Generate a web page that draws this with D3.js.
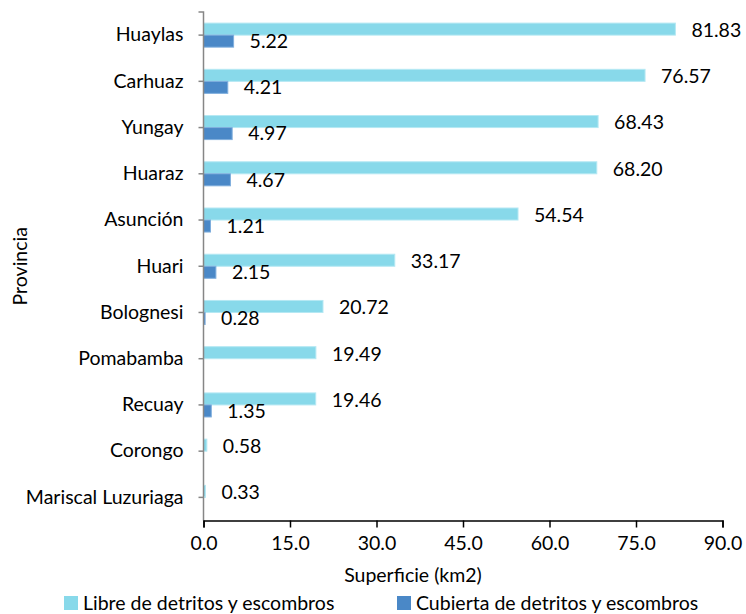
<!DOCTYPE html>
<html>
<head>
<meta charset="utf-8">
<script src="https://cdn.jsdelivr.net/npm/d3@7"></script>
<style>
  html, body { margin: 0; padding: 0; background: #fff; }
  svg { display: block; font-family: Lato, "Liberation Sans", sans-serif; }
</style>
</head>
<body>
<svg id="chart" width="746" height="614"></svg>
<script>
// Provinces, top to bottom
const provincias = ["Huaylas", "Carhuaz", "Yungay", "Huaraz", "Asunción", "Huari",
  "Bolognesi", "Pomabamba", "Recuay", "Corongo", "Mariscal Luzuriaga"];
// Surface (km2) free of debris
const libre = [81.83, 76.57, 68.43, 68.20, 54.54, 33.17, 20.72, 19.49, 19.46, 0.58, 0.33];
// Surface (km2) covered by debris (null = no value)
const cubierta = [5.22, 4.21, 4.97, 4.67, 1.21, 2.15, 0.28, null, 1.35, null, null];
const xTicks = [0, 15, 30, 45, 60, 75, 90];
const seriesNames = ["Libre de detritos y escombros", "Cubierta de detritos y escombros"];
const colors = ["#88D9EA", "#4A88C7"];

const svg = d3.select("#chart");
const plotLeft = 203.5, plotRight = 722.5, plotTop = 12, plotBottom = 520.5;
const fs = 19.5;

const x = d3.scaleLinear().domain([0, 90]).range([plotLeft, plotRight]);
const y = d3.scaleBand().domain(provincias).range([plotTop, plotBottom])
  .paddingInner(0.48).paddingOuter(0.24);
const ySub = d3.scaleBand().domain([0, 1]).range([0, y.bandwidth()]);

const rows = provincias.map((p, i) => ({ p, vals: [libre[i], cubierta[i]] }));

// Bars
const g = svg.append("g");
rows.forEach(r => {
  r.vals.forEach((v, s) => {
    if (v == null) return;
    g.append("rect")
      .attr("x", x(0))
      .attr("y", y(r.p) + ySub(s))
      .attr("width", Math.max(x(v) - x(0), 0))
      .attr("height", ySub.bandwidth())
      .attr("fill", colors[s])
      .attr("stroke", s === 0 ? "#B5E8F3" : "#7FAEDD")
      .attr("stroke-width", 1);
  });
});

// Value labels
rows.forEach(r => {
  r.vals.forEach((v, s) => {
    if (v == null) return;
    g.append("text")
      .attr("x", x(v) + 16)
      .attr("y", y(r.p) + ySub(s) + ySub.bandwidth() / 2 + (s === 0 ? 1 : 0))
      .attr("dy", "0.35em")
      .attr("font-size", fs)
      .attr("fill", "#000")
      .text(v.toFixed(2));
  });
});

// Y axis
const yAxis = d3.axisLeft(y).tickSize(5).tickPadding(15).tickSizeOuter(5);
const gy = svg.append("g").attr("transform", `translate(${plotLeft},0)`).call(yAxis);
gy.select(".domain").attr("stroke", "#868686").attr("stroke-width", 1.5)
  .attr("d", `M-5,${plotTop}H0V${plotBottom}`);
gy.selectAll(".tick line").attr("stroke", "#868686").attr("stroke-width", 1.5);
gy.selectAll(".tick text").attr("font-size", fs).attr("fill", "#000")
  .attr("font-family", "Lato, sans-serif");

// X axis
const xAxis = d3.axisBottom(x).tickValues(xTicks).tickFormat(d3.format(".1f"))
  .tickSize(7).tickSizeOuter(7).tickPadding(9);
const gx = svg.append("g").attr("transform", `translate(0,${plotBottom})`).call(xAxis);
gx.select(".domain").attr("stroke", "#000").attr("stroke-width", 1.5);
gx.selectAll(".tick line").attr("stroke", "#000").attr("stroke-width", 1.5);
gx.selectAll(".tick text").attr("font-size", fs).attr("fill", "#000")
  .attr("font-family", "Lato, sans-serif");

// Axis titles
svg.append("text")
  .attr("x", 413).attr("y", 575).attr("dy", "0.35em")
  .attr("text-anchor", "middle").attr("font-size", fs)
  .text("Superficie (km2)");
svg.append("text")
  .attr("transform", `translate(20,${(plotTop + plotBottom) / 2}) rotate(-90)`)
  .attr("dy", "0.35em").attr("text-anchor", "middle").attr("font-size", fs)
  .text("Provincia");

// Legend
const legendX = [64, 397];
seriesNames.forEach((name, i) => {
  const lg = svg.append("g").attr("transform", `translate(${legendX[i]},596)`);
  lg.append("rect").attr("width", 14).attr("height", 14).attr("fill", colors[i]);
  lg.append("text").attr("x", 19).attr("y", 7).attr("dy", "0.35em")
    .attr("font-size", fs).text(name);
});
</script>
</body>
</html>
